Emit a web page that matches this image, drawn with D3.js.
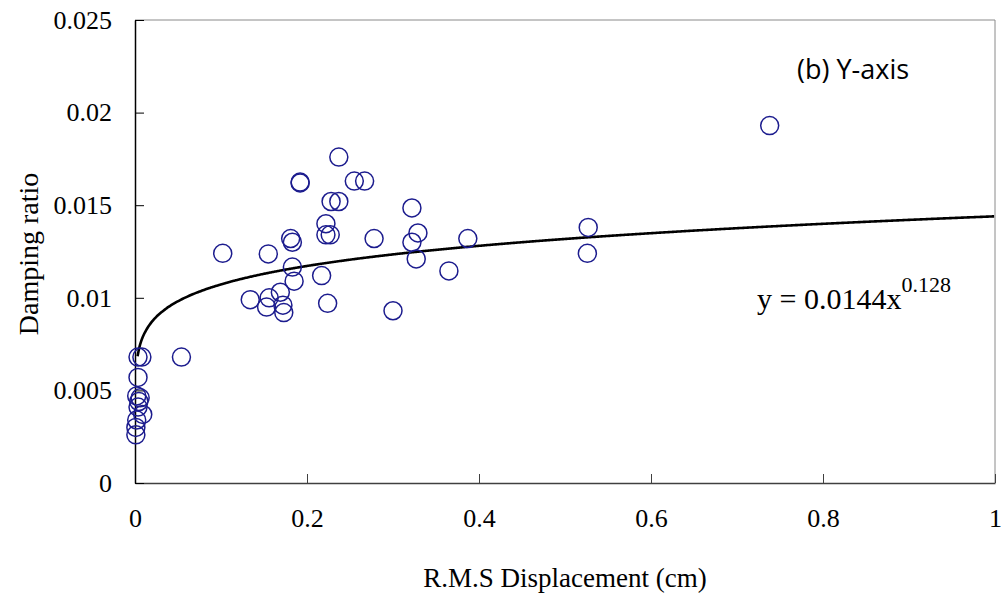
<!DOCTYPE html>
<html>
<head>
<meta charset="utf-8">
<script src="https://cdn.jsdelivr.net/npm/d3@7"></script>
<style>
  body { margin: 0; background: #fff; }
  svg { display: block; }
</style>
</head>
<body>
<div id="chart"></div>
<script>
// measured points: R.M.S displacement (cm) vs damping ratio
var dispX = [
  0.738, 0.527, 0.526, 0.102, 0.155, 0.183, 0.181, 0.183, 0.185, 0.134,
  0.156, 0.153, 0.169, 0.172, 0.173, 0.217, 0.224, 0.237, 0.192, 0.192,
  0.255, 0.267, 0.228, 0.237, 0.222, 0.222, 0.227, 0.278, 0.322, 0.329,
  0.322, 0.327, 0.365, 0.387, 0.300, 0.054,
  0.0035, 0.008, 0.0035, 0.002, 0.0035, 0.009, 0.001, 0.001, 0.0045, 0.002, 0.006
];
var dampY = [
  0.0193, 0.0138, 0.0124, 0.0124, 0.01237, 0.0130, 0.0132, 0.01166, 0.0109, 0.0099,
  0.0100, 0.0095, 0.0103, 0.0096, 0.0092, 0.0112, 0.0097, 0.0176, 0.0162, 0.01625,
  0.0163, 0.0163, 0.0152, 0.0152, 0.0140, 0.0134, 0.0134, 0.0132, 0.01485, 0.0135,
  0.0130, 0.0121, 0.01145, 0.0132, 0.0093, 0.0068,
  0.0068, 0.0068, 0.0057, 0.0047, 0.0041, 0.0037, 0.0030, 0.0026, 0.0044, 0.0034, 0.0046
];
var xTicks = [0, 0.2, 0.4, 0.6, 0.8, 1];
var yTicks = [0, 0.005, 0.01, 0.015, 0.02, 0.025];

// power fit y = 0.0144 x^0.128
var fitA = 0.0144, fitB = 0.128;

var width = 1001,
    height = 594,
    plotL = 135, plotR = 995, plotT = 20, plotB = 483;

var x = d3.scaleLinear().domain([0, 1]).range([plotL, plotR]);
var y = d3.scaleLinear().domain([0, 0.025]).range([plotB, plotT]);

var svg = d3.select('#chart').append('svg')
    .attr('width', width)
    .attr('height', height)

// plot frame (top/right light)
svg.append('path')
    .attr('d', 'M' + plotL + ',' + plotT + 'H' + plotR + 'V' + plotB)
    .attr('fill', 'none')
    .attr('stroke', '#8a8a8a')
    .attr('stroke-width', 1)

var xAxis = svg.append('g')
    .attr('transform', 'translate(0,' + plotB + ')')
    .call(d3.axisBottom(x).tickValues(xTicks).tickSizeInner(-9).tickSizeOuter(0)
        .tickFormat(d3.format('~g')).tickPadding(26))
xAxis.select('.domain').attr('stroke', '#404040').attr('stroke-width', 1.5)
xAxis.selectAll('.tick line').attr('stroke', '#404040')
xAxis.selectAll('text')
    .attr('font-family', '"Liberation Serif", serif')
    .attr('font-size', 26)
    .attr('fill', '#000')

var yAxis = svg.append('g')
    .attr('transform', 'translate(' + plotL + ',0)')
    .call(d3.axisLeft(y).tickValues(yTicks).tickSizeInner(-9).tickSizeOuter(0)
        .tickFormat(d3.format('~g')).tickPadding(23))
yAxis.select('.domain').attr('stroke', '#000').attr('stroke-width', 1.5)
yAxis.selectAll('.tick line').attr('stroke', '#000')
yAxis.selectAll('text')
    .attr('font-family', '"Liberation Serif", serif')
    .attr('font-size', 26)
    .attr('fill', '#000')

// trend line
var fitX = d3.range(0.003, 1.0001, 0.002);
var line = d3.line()
    .x(function(d) { return x(d); })
    .y(function(d) { return y(fitA * Math.pow(d, fitB)); })
    .curve(d3.curveMonotoneX)

svg.append('path')
    .datum(fitX)
    .attr('d', line)
    .attr('fill', 'none')
    .attr('stroke', '#000')
    .attr('stroke-width', 2.6)

// points
svg.append('g').selectAll('circle')
    .data(dispX)
  .enter().append('circle')
    .attr('cx', function(d) { return x(d); })
    .attr('cy', function(d, i) { return y(dampY[i]); })
    .attr('r', 9)
    .attr('fill', 'none')
    .attr('stroke', '#1c1c8e')
    .attr('stroke-width', 1.5)

// labels
svg.append('text')
    .attr('x', 565)
    .attr('y', 587)
    .attr('text-anchor', 'middle')
    .attr('font-family', '"Liberation Serif", serif')
    .attr('font-size', 27)
    .text('R.M.S Displacement (cm)')

svg.append('text')
    .attr('transform', 'translate(38,254) rotate(-90)')
    .attr('text-anchor', 'middle')
    .attr('font-family', '"Liberation Serif", serif')
    .attr('font-size', 28)
    .text('Damping ratio')

svg.append('text')
    .attr('x', 797)
    .attr('y', 79)
    .attr('font-family', '"Open Sans", sans-serif')
    .attr('font-size', 27)
    .text('(b) Y-axis')

var eq = svg.append('text')
    .attr('x', 757)
    .attr('y', 309)
    .attr('font-family', '"Liberation Serif", serif')
    .attr('font-size', 30)
eq.append('tspan').text('y = 0.0144x')
eq.append('tspan').attr('dy', -17).attr('font-size', 22).text('0.128')
</script>
</body>
</html>
